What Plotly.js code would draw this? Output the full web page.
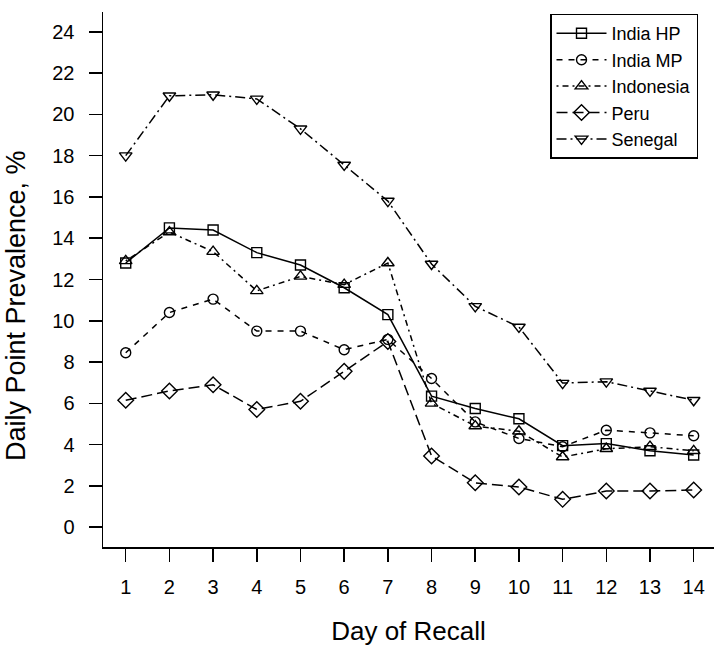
<!DOCTYPE html>
<html>
<head>
<meta charset="utf-8">
<script src="https://cdn.plot.ly/plotly-3.0.1.min.js"></script>
<style>html,body{margin:0;padding:0;background:#fff;}#chart{width:714px;height:646px;}</style>
</head>
<body>
<div id="chart"></div>
<script>
const days = [1,2,3,4,5,6,7,8,9,10,11,12,13,14];
const seriesNames = ["India HP","India MP","Indonesia","Peru","Senegal"];
const indiaHP   = [12.8, 14.5, 14.4, 13.3, 12.7, 11.6, 10.3, 6.35, 5.75, 5.25, 3.95, 4.05, 3.7, 3.5];
const indiaMP   = [8.45, 10.4, 11.05, 9.5, 9.5, 8.6, 9.1, 7.2, 5.1, 4.3, 3.9, 4.7, 4.57, 4.43];
const indonesia = [12.9, 14.3, 13.35, 11.45, 12.15, 11.75, 12.8, 6.0, 4.9, 4.65, 3.4, 3.8, 3.9, 3.7];
const peru      = [6.15, 6.6, 6.9, 5.7, 6.1, 7.55, 9.0, 3.45, 2.15, 1.95, 1.35, 1.75, 1.75, 1.8];
const senegal   = [18.0, 20.9, 20.95, 20.75, 19.3, 17.55, 15.8, 12.75, 10.7, 9.7, 6.98, 7.05, 6.6, 6.15];
const yTicks = [0,2,4,6,8,10,12,14,16,18,20,22,24];
const xTitle = "Day of Recall";
const yTitle = "Daily Point Prevalence, %";

const values = [indiaHP, indiaMP, indonesia, peru, senegal];
const symbols = ["square-open","circle-open","triangle-up-open","diamond-open","triangle-down-open"];
const sizes = [10, 10, 11, 12, 11];
const dashes = ["solid", "6px,6px", "2px,4px,6px,4px", "11px,5px", "10px,4px,2px,4px"];

const traces = values.map((v, i) => ({
  x: days, y: v, name: seriesNames[i], type: "scatter", mode: "lines+markers",
  line: {color: "#000", width: 1.5, dash: dashes[i]},
  marker: {symbol: symbols[i], size: sizes[i], color: "#000", line: {color: "#000", width: 1.4}}
}));

const font = {family: "Liberation Sans, Arial, sans-serif", color: "#000"};
const layout = {
  width: 714, height: 646,
  margin: {l: 103, r: 0, t: 12, b: 99},
  paper_bgcolor: "#fff", plot_bgcolor: "#fff",
  font: Object.assign({size: 18}, font),
  showlegend: true,
  legend: {
    x: 0.7316, y: 0.997, xanchor: "left", yanchor: "top",
    bordercolor: "#000", borderwidth: 1.5, bgcolor: "#fff",
    font: Object.assign({size: 18}, font),
    itemwidth: 50, tracegroupgap: 0
  },
  xaxis: {
    range: [0.48, 14.465], tickmode: "array", tickvals: days, ticktext: days.map(String),
    showgrid: false, zeroline: false, showline: true, linecolor: "#000", linewidth: 1.5,
    ticks: "outside", ticklen: 13, tickwidth: 1.5, tickcolor: "#000",
    ticklabelstandoff: 8,
    tickfont: Object.assign({size: 20}, font),
    title: {text: xTitle, font: Object.assign({size: 26}, font), standoff: 25},
    automargin: false, fixedrange: true
  },
  yaxis: {
    range: [-0.96, 24.96], tickmode: "array", tickvals: yTicks, ticktext: yTicks.map(String),
    showgrid: false, zeroline: false, showline: true, linecolor: "#000", linewidth: 1.5,
    ticks: "outside", ticklen: 13, tickwidth: 1.5, tickcolor: "#000",
    ticklabelstandoff: 10,
    tickfont: Object.assign({size: 20}, font),
    automargin: false, fixedrange: true
  },
  annotations: [{
    text: yTitle, textangle: -90, showarrow: false,
    xref: "paper", yref: "paper", x: -0.1424, y: 0.4523,
    xanchor: "center", yanchor: "middle",
    font: Object.assign({size: 27}, font)
  }]
};

Plotly.newPlot("chart", traces, layout, {displayModeBar: false, staticPlot: true});
</script>
</body>
</html>
